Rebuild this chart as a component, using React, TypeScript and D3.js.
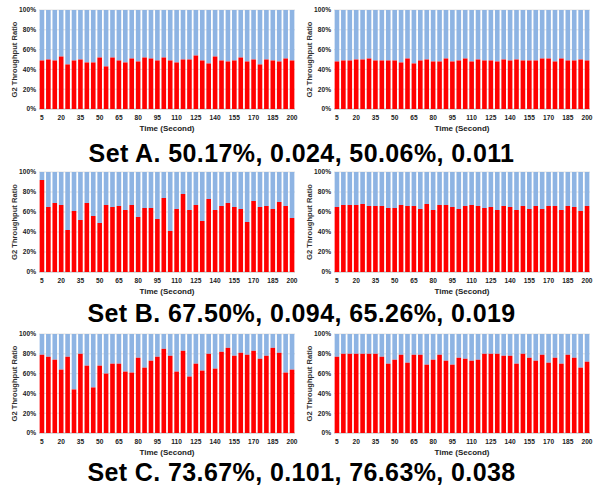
import React from "react";
import * as d3 from "d3";

// Time categories (seconds)
const times = [
  5, 10, 15, 20, 25, 30, 35, 40, 45, 50, 55, 60, 65, 70, 75, 80, 85, 90, 95, 100,
  105, 110, 115, 120, 125, 130, 135, 140, 145, 150, 155, 160, 165, 170, 175, 180,
  185, 190, 195, 200,
];
const xTickLabels = [5, 20, 35, 50, 65, 80, 95, 110, 125, 140, 155, 170, 185, 200];
const yTicks = [0, 20, 40, 60, 80, 100];

// G2 throughput ratio (%) per panel
const setALeft = [
  49, 50, 49, 53, 45, 49, 50, 47, 47, 52, 43, 52, 49, 47, 51, 48, 52, 51, 49, 52,
  49, 47, 50, 50, 54, 49, 46, 53, 49, 48, 49, 52, 48, 50, 45, 50, 49, 48, 51, 49,
];
const setARight = [
  48, 49, 49, 50, 50, 51, 49, 49, 49, 49, 47, 51, 46, 49, 50, 48, 48, 51, 48, 49,
  51, 48, 50, 49, 49, 48, 50, 49, 50, 49, 49, 49, 51, 51, 48, 51, 49, 49, 50, 49,
];
const setBLeft = [
  92, 65, 69, 67, 42, 61, 52, 69, 56, 49, 67, 65, 66, 62, 67, 55, 64, 64, 53, 74,
  41, 63, 78, 62, 67, 51, 73, 62, 66, 69, 65, 63, 50, 71, 65, 66, 63, 70, 66, 54,
];
const setBRight = [
  65, 67, 67, 67, 68, 66, 66, 66, 64, 64, 67, 66, 66, 63, 68, 62, 67, 67, 65, 63,
  66, 67, 66, 64, 65, 62, 66, 65, 62, 66, 63, 66, 63, 66, 66, 62, 66, 65, 61, 66,
];
const setCLeft = [
  79, 77, 74, 64, 77, 44, 80, 68, 46, 68, 60, 70, 70, 62, 61, 76, 66, 73, 77, 85,
  78, 62, 83, 57, 70, 63, 80, 65, 82, 86, 78, 81, 79, 83, 75, 78, 86, 81, 61, 64,
];
const setCRight = [
  77, 80, 80, 80, 80, 80, 80, 77, 70, 74, 79, 71, 79, 79, 69, 74, 79, 73, 69, 76,
  75, 73, 74, 80, 80, 80, 78, 78, 70, 80, 76, 73, 79, 71, 76, 70, 79, 76, 66, 72,
];

const titles = [
  "Set A. 50.17%, 0.024, 50.06%, 0.011",
  "Set B. 67.50%, 0.094, 65.26%, 0.019",
  "Set C. 73.67%, 0.101, 76.63%, 0.038",
];

const RED = "#FF0000";
const BLUE = "#8EB4E3";
const FONT = "'Liberation Sans', Arial, sans-serif";

type PanelProps = { values: number[]; x0: number; x1: number; y0: number; y1: number };

const Panel = ({ values, x0, x1, y0, y1 }: PanelProps) => {
  const x = d3.scaleBand<number>().domain(times).range([x0, x1]).paddingInner(0.28).paddingOuter(0.1);
  const y = d3.scaleLinear().domain([0, 100]).range([y1, y0]);
  const bw = x.bandwidth();
  return (
    <g>
      {yTicks.map((t) => (
        <g key={t}>
          <line x1={x0} x2={x1} y1={y(t)} y2={y(t)} stroke={t === 0 ? "#A6A6A6" : "#D9D9D9"} strokeWidth={0.8} />
          <text x={x0 - 3} y={y(t) + 2.3} textAnchor="end" fontSize={6.6} fontWeight="bold" fontFamily={FONT} fill="#222">
            {t}%
          </text>
        </g>
      ))}
      {values.map((v, i) => (
        <g key={i}>
          <rect x={x(times[i])} y={y(100)} width={bw} height={y(v) - y(100)} fill={BLUE} />
          <rect x={x(times[i])} y={y(v)} width={bw} height={y(0) - y(v)} fill={RED} />
        </g>
      ))}
      {xTickLabels.map((t) => (
        <text key={t} x={(x(t) ?? 0) + bw / 2} y={y1 + 11} textAnchor="middle" fontSize={6.6} fontWeight="bold" fontFamily={FONT} fill="#222">
          {t}
        </text>
      ))}
      <text x={(x0 + x1) / 2} y={y1 + 21.5} textAnchor="middle" fontSize={8} fontWeight="bold" fontFamily={FONT} fill="#222">
        Time (Second)
      </text>
      <text
        transform={`translate(${x0 - 22},${(y0 + y1) / 2}) rotate(-90)`}
        textAnchor="middle"
        fontSize={7.6}
        fontWeight="bold"
        fontFamily={FONT}
        fill="#333"
      >
        G2 Throughput Ratio
      </text>
    </g>
  );
};

const rows = [
  { left: setALeft, right: setARight, top: 10, bottom: 109, titleY: 162 },
  { left: setBLeft, right: setBRight, top: 172, bottom: 272, titleY: 322 },
  { left: setCLeft, right: setCRight, top: 334, bottom: 433, titleY: 481 },
];

const App = () => {
  return (
    <svg width={593} height={488} style={{ position: "absolute", left: 0, top: 0, background: "#fff" }}>
      <rect width={593} height={488} fill="#fff" />
      {rows.map((r, i) => (
        <g key={i}>
          <Panel values={r.left} x0={39} x1={295} y0={r.top} y1={r.bottom} />
          <Panel values={r.right} x0={334} x1={590} y0={r.top} y1={r.bottom} />
          <text x={301.5} y={r.titleY} textAnchor="middle" fontSize={25} letterSpacing={0.4} fontWeight="bold" fontFamily={FONT} fill="#000">
            {titles[i]}
          </text>
        </g>
      ))}
    </svg>
  );
};

export default App;
